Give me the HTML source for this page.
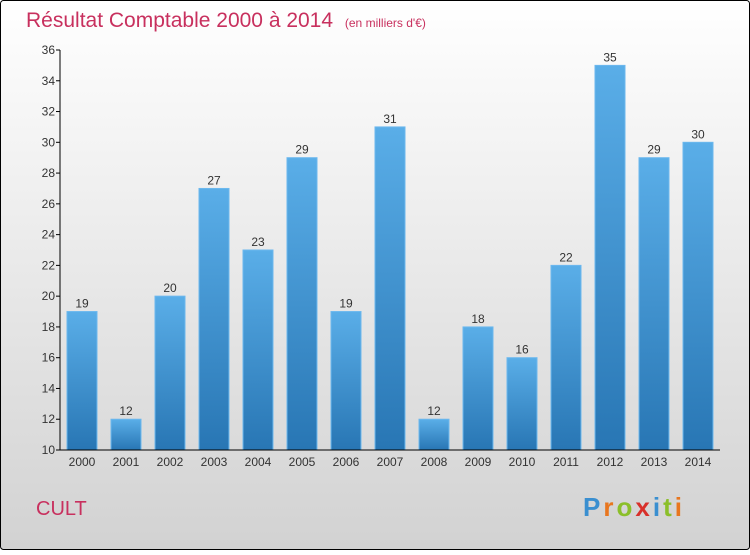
<!DOCTYPE html>
<html><head><meta charset="utf-8"><style>
html,body{margin:0;padding:0;}
body{width:750px;height:550px;overflow:hidden;font-family:"Liberation Sans",sans-serif;}
</style></head><body>
<svg width="750" height="550" xmlns="http://www.w3.org/2000/svg">
<defs>
<linearGradient id="bg" x1="0" y1="0" x2="0" y2="1"><stop offset="0" stop-color="#ffffff"/><stop offset="1" stop-color="#d2d2d2"/></linearGradient>
<linearGradient id="bar" x1="0" y1="0" x2="0" y2="1"><stop offset="0" stop-color="#5aaee8"/><stop offset="1" stop-color="#2876b4"/></linearGradient>
</defs>
<rect x="0.5" y="0.5" width="749" height="549" rx="3" fill="url(#bg)" stroke="#000"/>
<text x="26" y="27" font-size="21" fill="#c8305e">Résultat Comptable 2000 à 2014 <tspan font-size="12" dx="6">(en milliers d'€)</tspan></text>
<g id="plot"></g>
<text x="36" y="515" font-size="20" fill="#c8305e">CULT</text>
<g font-size="26" font-weight="bold">
<text x="583" y="516" letter-spacing="3"><tspan fill="#3a8fd0">P</tspan><tspan fill="#e8761e">r</tspan><tspan fill="#8bbf2a">o</tspan><tspan fill="#d8302a">x</tspan><tspan fill="#3a8fd0">i</tspan><tspan fill="#8bbf2a">t</tspan><tspan fill="#e8761e">i</tspan></text>
</g>
</svg>
<script>
const years=["2000","2001","2002","2003","2004","2005","2006","2007","2008","2009","2010","2011","2012","2013","2014"];
const values=[19,12,20,27,23,29,19,31,12,18,16,22,35,29,30];
const yTicks=[10,12,14,16,18,20,22,24,26,28,30,32,34,36];
const NS="http://www.w3.org/2000/svg";
const g=document.getElementById('plot');
const x0=60,x1=720,yTop=50,yBot=450,vMin=10,vMax=36;
const band=(x1-x0)/years.length;
const y=v=>yBot-(v-vMin)/(vMax-vMin)*(yBot-yTop);
const xc=i=>x0+band*(i+0.5);
function el(t,a){const e=document.createElementNS(NS,t);for(const k in a)e.setAttribute(k,a[k]);g.appendChild(e);return e;}
values.forEach((v,i)=>{
 const r=el('rect',{x:xc(i)-15,y:y(v),width:30,height:yBot-y(v),fill:'url(#bar)',stroke:'#6cb8ee','stroke-width':1});
 
 
 const t=el('text',{x:xc(i),y:y(v)-4,'text-anchor':'middle','font-size':12,fill:'#333'});
 t.textContent=v;
 
 
 const xt=el('text',{x:xc(i),y:466,'text-anchor':'middle','font-size':12,fill:'#333'});
 xt.textContent=years[i];
 
 
});
yTicks.forEach(v=>{
 const l=el('line',{x1:56,x2:60,y1:y(v),y2:y(v),stroke:'#000'});
 
 
 const t=el('text',{x:55,y:y(v)+4,'text-anchor':'end','font-size':12,fill:'#333'});
 t.textContent=v;
 
 
});
const ya=el('line',{x1:60,x2:60,y1:yTop,y2:yBot,stroke:'#000'});


const xa=el('line',{x1:60,x2:x1,y1:yBot,y2:yBot,stroke:'#000'});


</script>
</body></html>
